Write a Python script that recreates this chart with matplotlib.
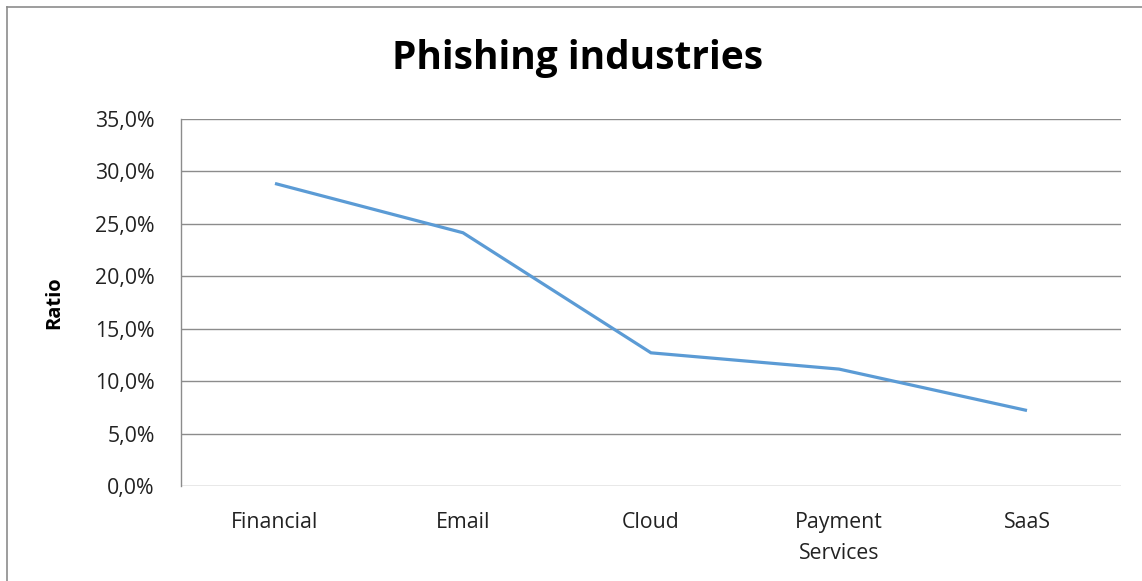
import matplotlib
matplotlib.use("Agg")
import matplotlib.pyplot as plt
from matplotlib.ticker import FuncFormatter
from matplotlib.lines import Line2D

categories = ["Financial", "Email", "Cloud", "Payment\nServices", "SaaS"]
ratios = [28.85, 24.15, 12.7, 11.15, 7.2]
y_ticks = [0, 5, 10, 15, 20, 25, 30, 35]

plt.rcParams["font.family"] = ["Open Sans", "DejaVu Sans"]

fig = plt.figure(figsize=(11.42, 5.81), dpi=100)
ax = fig.add_axes([181 / 1142, 1 - 486 / 581, (1121 - 181) / 1142, (486 - 119) / 581])

x = list(range(len(categories)))
ax.plot(x, ratios, color="#5B9BD5", linewidth=2.3, solid_capstyle="butt",
        solid_joinstyle="miter")

ax.set_xlim(-0.5, len(categories) - 0.5)
ax.set_ylim(0, 35)
ax.set_yticks(y_ticks)
ax.yaxis.set_major_formatter(FuncFormatter(lambda v, _: f"{v:.1f}%".replace(".", ",")))
ax.set_xticks(x)
ax.set_xticklabels(categories, linespacing=1.6)

ax.grid(axis="y", color="#8c8c8c", linewidth=1.0)
ax.set_axisbelow(True)
for side in ["top", "right", "bottom"]:
    ax.spines[side].set_visible(False)
ax.spines["left"].set_color("#8c8c8c")
ax.spines["left"].set_linewidth(1.0)

ax.tick_params(axis="both", length=0, labelsize=15.3, colors="#333333")
ax.tick_params(axis="y", pad=19)
ax.tick_params(axis="x", pad=19)
for lbl in ax.get_xticklabels() + ax.get_yticklabels():
    lbl.set_color("#222222")
for lbl in ax.get_xticklabels():
    lbl.set_verticalalignment("top")

ax.set_ylabel("Ratio", fontsize=14.5, fontweight="bold", labelpad=22)

fig.text(578 / 1142, 1 - 58 / 581, "Phishing industries", ha="center", va="center",
         fontsize=28, fontweight="bold", color="#000000")

# outer chart frame (top and left edges)
fig.add_artist(Line2D([7 / 1142, 7 / 1142], [0, 1 - 7 / 581], transform=fig.transFigure,
                      color="#8c8c8c", linewidth=1.2))
fig.add_artist(Line2D([7 / 1142, 1], [1 - 7 / 581, 1 - 7 / 581], transform=fig.transFigure,
                      color="#8c8c8c", linewidth=1.2))

fig.savefig("out.png", dpi=100)
